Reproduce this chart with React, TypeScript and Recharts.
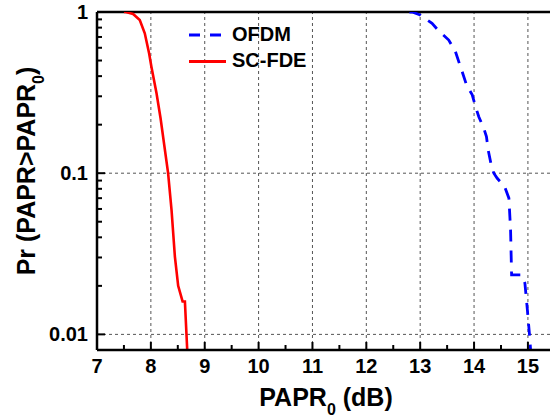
import React from 'react';
import { LineChart, Line, XAxis, YAxis, ReferenceLine } from 'recharts';

// ---- data ----
const scfdeX = [7.5, 7.534, 7.67, 7.794, 7.887, 7.967, 8.01, 8.105, 8.18, 8.32, 8.384, 8.446, 8.507, 8.589, 8.632, 8.675];
const scfdeP = [1, 1, 0.972, 0.892, 0.738, 0.555, 0.458, 0.313, 0.219, 0.1, 0.059, 0.0304, 0.02, 0.016, 0.016, 0.008];

const ofdmX = [12.8, 12.85, 13.0, 13.22, 13.33, 13.53, 13.655, 13.716, 13.78, 13.86, 13.966, 14.027, 14.088, 14.18, 14.23, 14.263, 14.325, 14.367, 14.43, 14.567, 14.647, 14.678, 14.697, 14.883, 14.944, 14.99, 15.032, 15.05];
const ofdmP = [1, 1, 0.958, 0.851, 0.773, 0.67, 0.567, 0.492, 0.426, 0.353, 0.306, 0.259, 0.224, 0.19, 0.169, 0.139, 0.11, 0.1, 0.093, 0.0826, 0.07, 0.0445, 0.0234, 0.0234, 0.0208, 0.0142, 0.0097, 0.008];

const xMajorTicks = [7, 8, 9, 10, 11, 12, 13, 14, 15];
const xMinorTicks = [7.5, 8.5, 9.5, 10.5, 11.5, 12.5, 13.5, 14.5];
const xGridValues = [8, 9, 10, 11, 12, 13, 14, 15];

const yMajorTicks = [0.01, 0.1, 1];
const yMajorLabels = ['0.01', '0.1', '1'];
const yMinorTicks = [0.02, 0.03, 0.04, 0.05, 0.06, 0.07, 0.08, 0.09, 0.2, 0.3, 0.4, 0.5, 0.6, 0.7, 0.8, 0.9];
const yGridValues = [0.01, 0.1];

const seriesNames = ['OFDM', 'SC-FDE'];
const seriesColors = ['#0000ff', '#ff0000'];

const xDomain = [7, 15.41];
const yDomain = [0.008, 1];

const scfdeData = scfdeX.map((x, i) => ({ x, p: scfdeP[i] }));
const ofdmData = ofdmX.map((x, i) => ({ x, p: ofdmP[i] }));
const xTicks = [...xMajorTicks, ...xMinorTicks].sort((a, b) => a - b);
const yTicks = [...yMajorTicks, ...yMinorTicks].sort((a, b) => a - b);

const FONT = '"Liberation Sans", Arial, Helvetica, sans-serif';

const isIn = (arr: number[], v: number) => arr.findIndex((a) => Math.abs(a - v) < 1e-9);

const XTick = (props: any) => {
  const { x, y, payload } = props;
  const v = payload.value;
  const major = isIn(xMajorTicks, v) >= 0;
  return (
    <g>
      <line x1={x} x2={x} y1={y} y2={y - (major ? 8 : 5)} stroke="#000" strokeWidth={2} />
      {major && (
        <text x={x} y={y + 23} textAnchor="middle" fontFamily={FONT} fontWeight="bold" fontSize={20} fill="#000">
          {String(v)}
        </text>
      )}
    </g>
  );
};

const YTick = (props: any) => {
  const { x, y, payload } = props;
  const v = payload.value;
  const idx = isIn(yMajorTicks, v);
  const major = idx >= 0;
  return (
    <g>
      <line x1={x} x2={x + (major ? 8 : 5)} y1={y} y2={y} stroke="#000" strokeWidth={2} />
      {major && (
        <text x={x - 9} y={y + 7} textAnchor="end" fontFamily={FONT} fontWeight="bold" fontSize={20} fill="#000">
          {yMajorLabels[idx]}
        </text>
      )}
    </g>
  );
};

const XTitle = () => (
  <text x={326} y={406} textAnchor="middle" fontFamily={FONT} fontWeight="bold" fontSize={25} fill="#000">
    PAPR
    <tspan fontSize={16} dy={9}>0</tspan>
    <tspan dy={-9}> (dB)</tspan>
  </text>
);

const YTitle = () => (
  <text
    transform="translate(35,171) rotate(-90)"
    x={0}
    y={0}
    textAnchor="middle"
    fontFamily={FONT}
    fontWeight="bold"
    fontSize={25}
    fill="#000"
  >
    Pr (PAPR&gt;PAPR
    <tspan fontSize={16} dy={9}>0</tspan>
    <tspan dy={-9}>)</tspan>
  </text>
);

const gridStyle = { stroke: '#555', strokeWidth: 1, strokeDasharray: '3 3' };

export default function App() {
  return (
    <div style={{ position: 'absolute', left: 0, top: 0, width: 550, height: 417, background: '#fff' }}>
      <LineChart
        width={550}
        height={417}
        margin={{ top: 12, right: 0, left: 0, bottom: 0 }}
        style={{ fontFamily: FONT }}
      >
        <XAxis
          type="number"
          dataKey="x"
          domain={xDomain}
          allowDataOverflow
          ticks={xTicks}
          interval={0}
          height={67}
          tickSize={0}
          tickMargin={0}
          tickLine={false}
          tick={<XTick />}
          axisLine={{ stroke: '#000', strokeWidth: 2.5 }}
          label={<XTitle />}
        />
        <YAxis
          type="number"
          dataKey="p"
          scale="log"
          domain={yDomain}
          allowDataOverflow
          ticks={yTicks}
          interval={0}
          width={97}
          tickSize={0}
          tickMargin={0}
          tickLine={false}
          tick={<YTick />}
          axisLine={{ stroke: '#000', strokeWidth: 2.5 }}
          label={<YTitle />}
        />
        {xGridValues.map((v) => (
          <ReferenceLine key={'gx' + v} x={v} {...gridStyle} />
        ))}
        {yGridValues.map((v) => (
          <ReferenceLine key={'gy' + v} y={v} {...gridStyle} />
        ))}
        <ReferenceLine y={1} stroke="#000" strokeWidth={2.5} />
        <Line
          data={ofdmData}
          dataKey="p"
          type="linear"
          stroke={seriesColors[0]}
          strokeWidth={2.8}
          strokeDasharray="12 9"
          dot={false}
          isAnimationActive={false}
        />
        <Line
          data={scfdeData}
          dataKey="p"
          type="linear"
          stroke={seriesColors[1]}
          strokeWidth={2.6}
          dot={false}
          isAnimationActive={false}
        />
      </LineChart>
      <svg width={550} height={417} style={{ position: 'absolute', left: 0, top: 0, pointerEvents: 'none' }}>
        {seriesNames.map((name, i) => (
          <g key={name}>
            <line
              x1={189}
              x2={226}
              y1={35 + i * 26.5}
              y2={35 + i * 26.5}
              stroke={seriesColors[i]}
              strokeWidth={2.8}
              strokeDasharray={i === 0 ? '11 10' : undefined}
            />
            <text x={232} y={41 + i * 26} fontFamily={FONT} fontWeight="bold" fontSize={20} fill="#000">
              {name}
            </text>
          </g>
        ))}
      </svg>
    </div>
  );
}
